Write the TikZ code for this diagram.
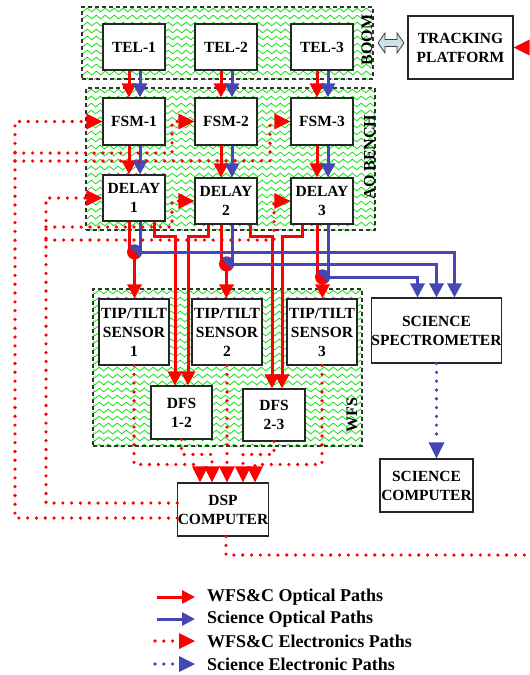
\documentclass[tikz,border=0pt]{standalone}
\usepackage{fontspec}
\setmainfont{Liberation Serif}
\usetikzlibrary{arrows.meta,calc,decorations.pathmorphing}
\definecolor{sciblue}{RGB}{70,70,180}
\definecolor{zgreen}{RGB}{0,225,0}
\definecolor{dacyan}{RGB}{200,228,230}
\begin{document}
\begin{tikzpicture}[x=1pt,y=-1pt,
  box/.style={draw=black!85, line width=1.1pt, fill=white, align=center, inner sep=0pt, font=\bfseries\fontsize{15.5}{19}\selectfont},
  region/.style={draw=black!80, line width=1.1pt, dash pattern=on 4pt off 3pt, inner sep=0pt},
  rlabel/.style={rotate=90, font=\bfseries\fontsize{16}{19}\selectfont, inner sep=0pt},
  zz/.style={draw=zgreen, line width=0.75pt, decorate, decoration={zigzag, segment length=9pt, amplitude=1.8pt}},
  ropt/.style={draw=red, line width=3pt, -{Triangle[length=14pt,width=14pt]}},
  bopt/.style={draw=sciblue, line width=3pt, -{Triangle[length=14pt,width=14pt]}},
  rln/.style={draw=red, line width=3pt},
  bln/.style={draw=sciblue, line width=3pt},
  rel/.style={draw=red, line width=3.6pt, line cap=round, dash pattern=on 0pt off 8.8pt},
  bel/.style={draw=sciblue, line width=3.6pt, line cap=round, dash pattern=on 0pt off 8.8pt},
  eltip/.style={-{Triangle[length=16pt,width=16pt,line width=0pt]}},
  lgtext/.style={anchor=west, inner sep=0pt, font=\bfseries\fontsize{18}{20}\selectfont},
]
\useasboundingbox (0,0) rectangle (530,675);
\clip (0,0) rectangle (530,675);

% green zigzag backgrounds
\begin{scope}
  \clip (82,7) rectangle (373,79);
  \foreach \yy in {10,17,...,80} \draw[zz] (76,\yy) -- (385,\yy);
\end{scope}
\begin{scope}
  \clip (86,88) rectangle (375,230);
  \foreach \yy in {91,98,...,231} \draw[zz] (80,\yy) -- (385,\yy);
\end{scope}
\begin{scope}
  \clip (93,289) rectangle (362,446);
  \foreach \yy in {292,299,...,447} \draw[zz] (88,\yy) -- (370,\yy);
\end{scope}

% regions
\node[region, minimum width=291pt, minimum height=72pt] (boom) at (227.5,43) {};
\node[region, minimum width=289pt, minimum height=142pt] (aobench) at (230.5,159) {};
\node[region, minimum width=269pt, minimum height=157pt] (wfs) at (227.5,367.5) {};
\node[rlabel] (boomlab) at (367,40) {BOOM};
\node[rlabel] (aolab) at (369.5,157) {AO BENCH};
\node[rlabel] (wfslab) at (352,415) {WFS};

% boxes
\node[box, minimum width=62pt, minimum height=46pt] (TEL1) at (134,47) {TEL-1};
\node[box, minimum width=62pt, minimum height=46pt] (TEL2) at (226,47) {TEL-2};
\node[box, minimum width=62pt, minimum height=46pt] (TEL3) at (322,47) {TEL-3};
\node[box, minimum width=62pt, minimum height=47pt] (FSM1) at (134,121.5) {FSM-1};
\node[box, minimum width=62pt, minimum height=47pt] (FSM2) at (226,121.5) {FSM-2};
\node[box, minimum width=62pt, minimum height=47pt] (FSM3) at (322,121.5) {FSM-3};
\node[box, minimum width=62pt, minimum height=46pt] (DELAY1) at (134,198) {DELAY\\1};
\node[box, minimum width=62pt, minimum height=46pt] (DELAY2) at (226,201) {DELAY\\2};
\node[box, minimum width=62pt, minimum height=46pt] (DELAY3) at (322,201) {DELAY\\3};
\node[box, minimum width=70pt, minimum height=66pt] (SENSOR1) at (134,332) {TIP/TILT\\SENSOR\\1};
\node[box, minimum width=70pt, minimum height=66pt] (SENSOR2) at (227,332) {TIP/TILT\\SENSOR\\2};
\node[box, minimum width=70pt, minimum height=66pt] (SENSOR3) at (322,332) {TIP/TILT\\SENSOR\\3};
\node[box, minimum width=61pt, minimum height=53pt] (DFS12) at (181.5,412.5) {DFS\\1-2};
\node[box, minimum width=62pt, minimum height=52pt] (DFS23) at (274,415) {DFS\\2-3};
\node[box, minimum width=129pt, minimum height=65pt] (SPECT) at (436.5,330.5) {SCIENCE\\SPECTROMETER};
\node[box, minimum width=93pt, minimum height=53pt] (SCICOMP) at (426.5,485.5) {SCIENCE\\COMPUTER};
\node[box, minimum width=90pt, minimum height=53pt] (DSP) at (223,509.5) {DSP\\COMPUTER};
\node[box, minimum width=105pt, minimum height=63pt] (TRACK) at (460.5,47.5) {TRACKING\\PLATFORM};

% double arrow boom <-> tracking platform
\draw[fill=dacyan, draw=black!75, line width=0.8pt] (378,43) -- (385,33) -- (385,39.5) -- (397,39.5) -- (397,33) -- (404,43) -- (397,53) -- (397,46.5) -- (385,46.5) -- (385,53) -- cycle;

% splitter positions
\coordinate (bs1) at (134.5,252);
\coordinate (bs2) at (226.5,264);
\coordinate (bs3) at (322.5,277);

% optical paths: TEL -> FSM -> DELAY
\foreach \i in {1,2,3}{
  \draw[ropt] ([xshift=-5pt]TEL\i.south) -- ([xshift=-5pt]FSM\i.north);
  \draw[bopt] ([xshift=6pt]TEL\i.south) -- ([xshift=6pt]FSM\i.north);
  \draw[ropt] ([xshift=-5pt]FSM\i.south) -- ([xshift=-5pt]DELAY\i.north);
  \draw[bopt] ([xshift=6pt]FSM\i.south) -- ([xshift=6pt]DELAY\i.north);
  \draw[rln] ([xshift=-5pt]DELAY\i.south) -- ([xshift=-5pt]DELAY\i.south |- bs\i);
  \draw[ropt] (bs\i) -- (bs\i |- SENSOR\i.north);
}
% DFS feeds
\draw[ropt] ([xshift=20pt]DELAY1.south) -- ++(0,15) -| ([xshift=-6.5pt]DFS12.north);
\draw[ropt] ([xshift=-18pt]DELAY2.south) -- ++(0,12) -| ([xshift=6.5pt]DFS12.north);
\draw[ropt] ([xshift=24pt]DELAY2.south) -- ++(0,12) -| ([xshift=-2pt]DFS23.north);
\draw[ropt] ([xshift=-20pt]DELAY3.south) -- ++(0,12) -| ([xshift=8pt]DFS23.north);
% science optical
\foreach \i in {1,2,3}{
  \draw[bln] ([xshift=6pt]DELAY\i.south) -- ([xshift=6pt]DELAY\i.south |- bs\i);
}
\draw[bopt] (bs1) -| ([xshift=18pt]SPECT.north);
\draw[bopt] (bs2) -| (SPECT.north);
\draw[bopt] (bs3) -| ([xshift=-19pt]SPECT.north);
% splitters
\foreach \i in {1,2,3}{
  \fill[red] (bs\i) circle[radius=7.5];
  \fill[sciblue] (bs\i) ++(45:7.5) arc[start angle=45, end angle=-135, radius=7.5] -- cycle;
}

% electronics paths
\draw[rel, eltip] ($(DSP.west)+(0,8.5)$) -| (15,121.5) -- (FSM1.west);
\draw[rel, eltip] (15,153) -- (172,153) |- (FSM2.west);
\draw[rel, eltip] (15,161) -- (270,161) |- (FSM3.west);
\draw[rel, eltip] ($(DSP.west)+(0,-6.5)$) -| (46,198) -- (DELAY1.west);
\draw[rel, eltip] (46,227) -- (172,227) |- (DELAY2.west);
\draw[rel, eltip] (46,240) -- (274,240) |- (DELAY3.west);

\draw[rel, eltip] (SENSOR1.south) |- ($(DSP.north)+(-23,-18)$) -- ($(DSP.north)+(-23,0)$);
\draw[rel, eltip] (DFS12.south) |- ($(DSP.north)+(-11,-28)$) -- ($(DSP.north)+(-11,0)$);
\draw[rel, eltip] (SENSOR2.south) -- (SENSOR2.south |- DSP.north);
\draw[rel, eltip] (DFS23.south) |- ($(DSP.north)+(20,-28)$) -- ($(DSP.north)+(20,0)$);
\draw[rel, eltip] (SENSOR3.south) |- ($(DSP.north)+(32,-18)$) -- ($(DSP.north)+(32,0)$);

\draw[rel, eltip] ($(DSP.south)+(3,0)$) |- (545,555) |- (TRACK.east);
\draw[bel, eltip] (SPECT.south) -- (SPECT.south |- SCICOMP.north);

% legend
\node[lgtext] (lg1) at (207,597) {WFS\&C Optical Paths};
\node[lgtext] (lg2) at (207,619) {Science Optical Paths};
\node[lgtext] (lg3) at (207,641) {WFS\&C Electronics Paths};
\node[lgtext] (lg4) at (207,664) {Science Electronic Paths};
\coordinate (la1) at (157,597);
\coordinate (la2) at (157,619);
\coordinate (la3) at (155,641);
\coordinate (la4) at (155,664);
\draw[draw=red, line width=3pt, -{Triangle[length=13pt,width=13pt]}] (la1) -- ([xshift=-12pt]lg1.west);
\draw[draw=sciblue, line width=3pt, -{Triangle[length=13pt,width=13pt]}] (la2) -- ([xshift=-12pt]lg2.west);
\draw[rel, eltip] (la3) -- ([xshift=-12pt]lg3.west);
\draw[bel, eltip] (la4) -- ([xshift=-12pt]lg4.west);
\end{tikzpicture}
\end{document}
